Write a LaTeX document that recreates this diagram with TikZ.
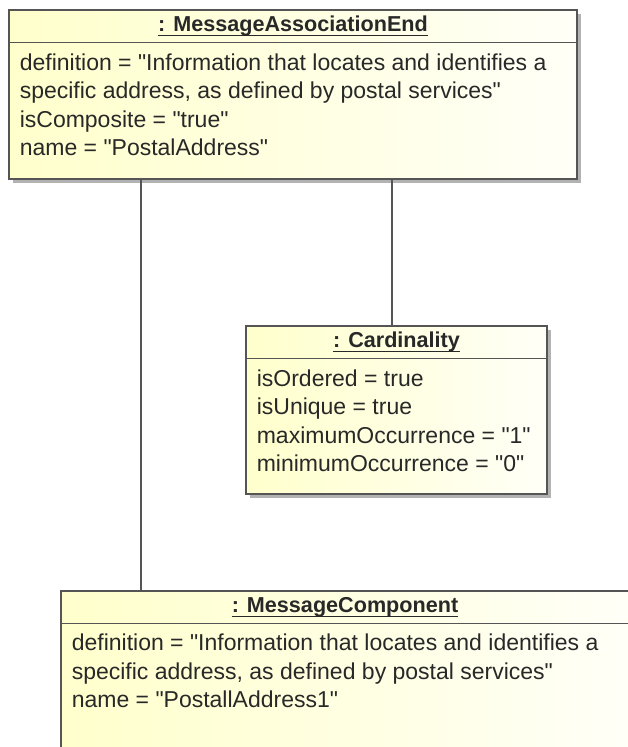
\documentclass[tikz,border=0pt]{standalone}
\usepackage{fontspec}
\setmainfont{Liberation Sans}[Ligatures=TeXOff]
\usetikzlibrary{shadows}
\definecolor{objfill}{RGB}{255,255,204}
\definecolor{objline}{RGB}{85,85,85}
\definecolor{objtext}{RGB}{40,40,40}

\begin{document}
\begin{tikzpicture}[x=1pt,y=1pt,
  objbox/.style={draw=objline,line width=1.8pt,left color=objfill,right color=objfill!15!white,
    drop shadow={shadow xshift=4pt,shadow yshift=-4pt,fill=black,opacity=0.3},inner sep=0pt},
  objtitle/.style={font=\fontsize{21.6}{26}\selectfont\bfseries,text=objtext,inner sep=0pt,anchor=base},
  objattr/.style={font=\fontsize{23}{28.5}\selectfont,text=objtext,align=left,inner sep=0pt,anchor=base west},
  underl/.style={draw=objtext,line width=1.4pt},
  sep/.style={draw=objline,line width=1.8pt},
  link/.style={draw=objline,line width=2pt}]
\useasboundingbox (0,0) rectangle (628,747);
\clip (0,0) rectangle (628,747);
\fill[white] (0,0) rectangle (628,747);

\node[objbox,minimum width=568,minimum height=169] (assoc) at (293,652.5) {};
\node[objtitle] (assoctitle) at ([yshift=-22.8pt]assoc.north) {: MessageAssociationEnd};
\draw[underl] ([yshift=-3.6pt]assoctitle.base west) -- ([yshift=-3.6pt]assoctitle.base east);
\draw[sep] ([yshift=-33.5pt]assoc.north west) -- ([yshift=-33.5pt]assoc.north east);
% base of a multi-line node is its last line
\node[objattr] (assocattr) at ([xshift=11.5pt,yshift=-146.7pt]assoc.north west)
  {definition = "Information that locates and identifies a\\specific address, as defined by postal services"\\isComposite = "true"\\name = "PostalAddress"};

\node[objbox,minimum width=301,minimum height=168] (card) at (396.5,337) {};
\node[objtitle] (cardtitle) at ([yshift=-22.8pt]card.north) {: Cardinality};
\draw[underl] ([yshift=-3.6pt]cardtitle.base west) -- ([yshift=-3.6pt]cardtitle.base east);
\draw[sep] ([yshift=-33.5pt]card.north west) -- ([yshift=-33.5pt]card.north east);
\node[objattr] (cardattr) at ([xshift=11.5pt,yshift=-146.7pt]card.north west)
  {isOrdered = true\\isUnique = true\\maximumOccurrence = "1"\\minimumOccurrence = "0"};

\node[objbox,minimum width=568,minimum height=169] (comp) at (345,71.5) {};
\node[objtitle] (comptitle) at ([yshift=-22.8pt]comp.north) {: MessageComponent};
\draw[underl] ([yshift=-3.6pt]comptitle.base west) -- ([yshift=-3.6pt]comptitle.base east);
\draw[sep] ([yshift=-33.5pt]comp.north west) -- ([yshift=-33.5pt]comp.north east);
\node[objattr] (compattr) at ([xshift=11.5pt,yshift=-117.5pt]comp.north west)
  {definition = "Information that locates and identifies a\\specific address, as defined by postal services"\\name = "PostallAddress1"};

\draw[link] (assoc.south -| 141,0) -- (comp.north -| 141,0);
\draw[link] (assoc.south -| 392,0) -- (card.north -| 392,0);
\end{tikzpicture}
\end{document}
